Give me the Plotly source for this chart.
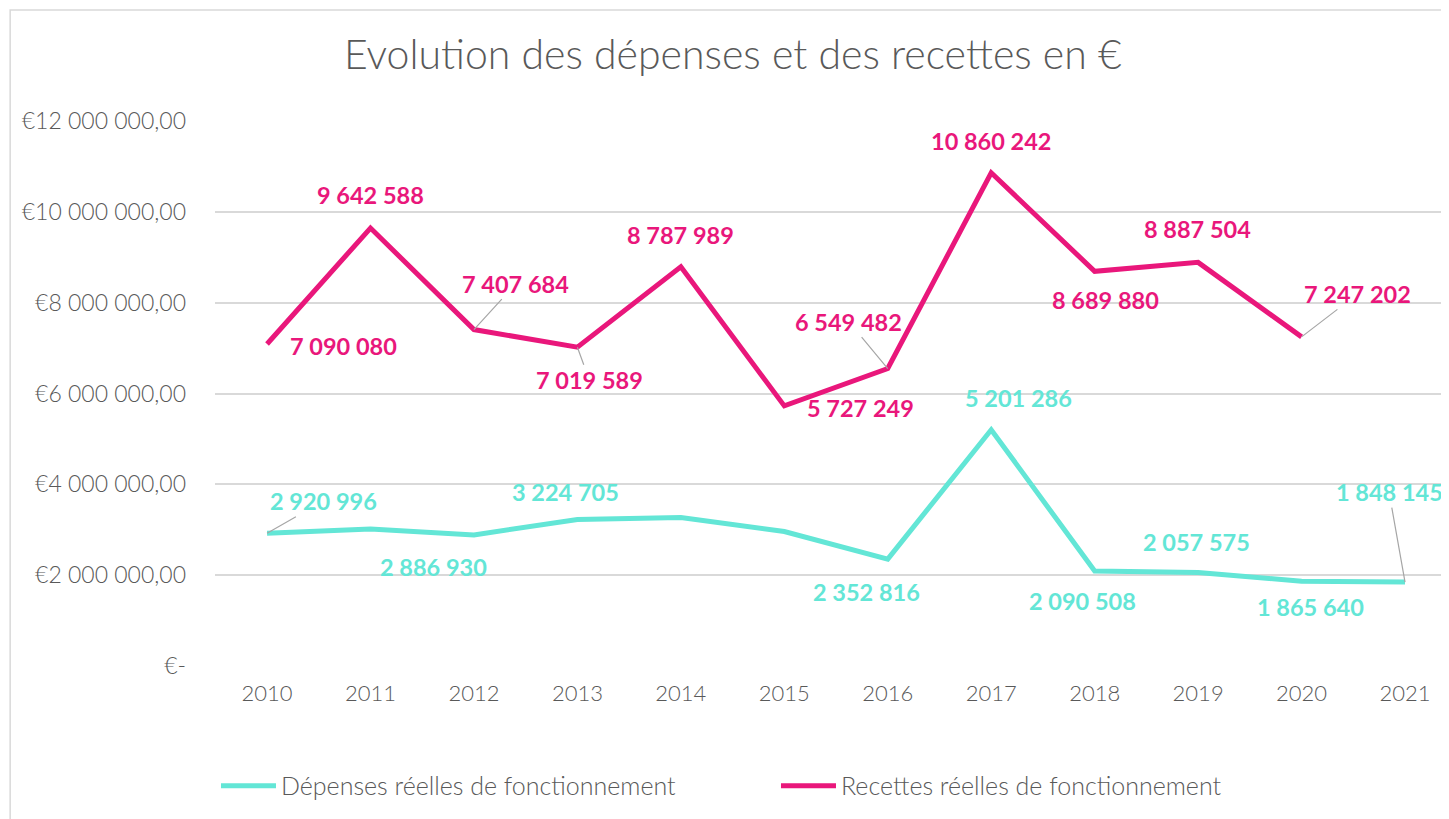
import plotly.graph_objects as go

years = list(range(2010, 2022))
depenses = [2920996, 3016000, 2886930, 3224705, 3270000, 2960000, 2352816,
            5201286, 2090508, 2057575, 1865640, 1848145]
recettes = [7090080, 9642588, 7407684, 7019589, 8787989, 5727249, 6549482,
            10860242, 8689880, 8887504, 7247202, None]
dep_labels = ["2 920 996", "", "2 886 930", "3 224 705", "", "", "2 352 816",
              "5 201 286", "2 090 508", "2 057 575", "1 865 640", "1 848 145"]
rec_labels = ["7 090 080", "9 642 588", "7 407 684", "7 019 589", "8 787 989",
              "5 727 249", "6 549 482", "10 860 242", "8 689 880", "8 887 504",
              "7 247 202", ""]
ytick_vals = [0, 2e6, 4e6, 6e6, 8e6, 10e6, 12e6]
ytick_text = ["€-", "€2 000 000,00", "€4 000 000,00", "€6 000 000,00",
              "€8 000 000,00", "€10 000 000,00", "€12 000 000,00"]

# label offsets in pixels (dx, dy screen; dy positive = down), leader flag
dep_off = [(56, -32, True), None, (-40, 32, False), (-12, -28, False), None, None,
           (-21, 33, False), (27, -32, False), (-12, 30, False), (-2, -31, False),
           (9, 26, False), (-16, -90, True)]
rec_off = [(76, 2, False), (0, -33, False), (42, -46, True), (12, 33, True),
           (0, -32, False), (76, 2, False), (-39, -47, True), (0, -32, False),
           (11, 29, False), (-1, -33, False), (56, -43, True), None]

CYAN = "#63E6D6"
MAGENTA = "#E9177B"
GREY = "#595959"
FONT = "Lato"

fig = go.Figure()
fig.add_trace(go.Scatter(x=years, y=depenses, mode="lines",
                         name="Dépenses réelles de fonctionnement",
                         line=dict(color=CYAN, width=5)))
fig.add_trace(go.Scatter(x=years, y=recettes, mode="lines",
                         name="Recettes réelles de fonctionnement",
                         line=dict(color=MAGENTA, width=5)))

annotations = []
for vals, labels, offs, col in [(depenses, dep_labels, dep_off, CYAN),
                                (recettes, rec_labels, rec_off, MAGENTA)]:
    for x, v, t, o in zip(years, vals, labels, offs):
        if v is None or not t or o is None:
            continue
        dx, dy, leader = o
        a = dict(x=x, y=v, text=t, font=dict(family=FONT, size=23.5, color=col,
                                                weight="bold"))
        if leader:
            a.update(showarrow=True, ax=dx, ay=dy, arrowhead=0, arrowwidth=1.2,
                     arrowcolor="#A6A6A6", standoff=0, startstandoff=0)
        else:
            a.update(showarrow=False, xshift=dx, yshift=-dy)
        annotations.append(a)

fig.update_layout(
    width=1441, height=811,
    margin=dict(l=207, r=0, t=113, b=153),
    paper_bgcolor="white", plot_bgcolor="white",
    title=dict(text="Evolution des dépenses et des recettes en €",
               x=0.503, xanchor="center", y=0.942, yanchor="middle",
               font=dict(family=FONT, size=41, color=GREY, weight=300)),
    xaxis=dict(range=[2009.497, 2021.425], tickvals=years,
               ticktext=[str(y) for y in years], showgrid=False, zeroline=False,
               showline=False, ticks="",
               tickfont=dict(family=FONT, size=22, color=GREY, weight=300),
               ticklabelstandoff=12),
    yaxis=dict(range=[0, 12e6], tickvals=ytick_vals, ticktext=ytick_text,
               showgrid=True, gridcolor="#D9D9D9", gridwidth=1.5, zeroline=False,
               showline=False, ticks="",
               tickfont=dict(family=FONT, size=23, color=GREY, weight=300),
               ticklabelstandoff=28),
    legend=dict(orientation="h", x=0.0008, xanchor="left", y=-0.22, yanchor="middle",
                font=dict(family=FONT, size=25, color=GREY, weight=300), entrywidth=490,
                itemwidth=55, bgcolor="rgba(0,0,0,0)"),
    annotations=annotations,
    shapes=[dict(type="rect", xref="paper", yref="paper", x0=-0.166, x1=1.05,
                 y0=-0.4, y1=1.2037, line=dict(color="#D9D9D9", width=1.5),
                 layer="below")],
)

fig.write_html("out.html")
